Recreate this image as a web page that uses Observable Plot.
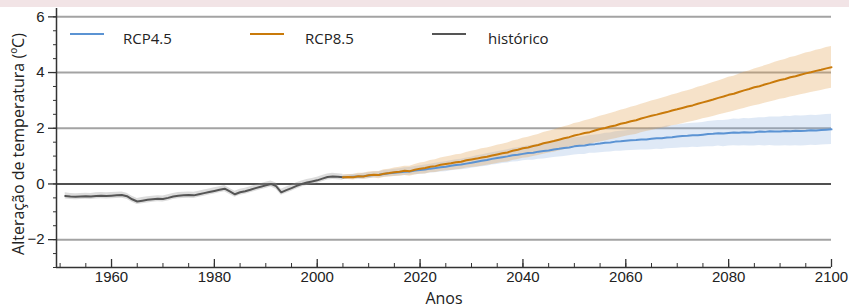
<!DOCTYPE html>
<html><head><meta charset="utf-8">
<script src="https://cdn.jsdelivr.net/npm/d3@7"></script>
<script src="https://cdn.jsdelivr.net/npm/@observablehq/plot@0.6"></script>
<style>
html,body{margin:0;padding:0;background:#fff;}
#band{height:7px;background:#f2e4e6;}
#wrap{position:relative;width:849px;height:300px;}
.sw{position:absolute;height:0;border-top:2px solid;}
.lt{position:absolute;font-family:"Open Sans",sans-serif;font-size:15px;color:#222;line-height:20px;white-space:nowrap;}
</style></head><body>
<div id="band"></div>
<div id="wrap"></div>
<script>
// ---- data ----
const histStart = 1951;
const histVals = [
-0.43,-0.45,-0.46,-0.45,-0.44,-0.45,-0.43,-0.42,-0.43,-0.42,
-0.41,-0.40,-0.44,-0.55,-0.63,-0.60,-0.57,-0.55,-0.53,-0.54,
-0.50,-0.45,-0.42,-0.41,-0.40,-0.41,-0.37,-0.33,-0.29,-0.25,
-0.21,-0.17,-0.27,-0.37,-0.30,-0.26,-0.21,-0.15,-0.10,-0.05,
0.00,-0.08,-0.30,-0.22,-0.15,-0.07,0.00,0.05,0.09,0.13,
0.19,0.25,0.27,0.26,0.24];
const histSpread = 0.11;

const rcpStart = 2005;
const rcp45 = [
0.24,0.25,0.26,0.27,0.28,0.30,0.32,0.33,0.36,0.38,
0.40,0.42,0.44,0.45,0.48,0.50,0.52,0.55,0.57,0.60,
0.62,0.65,0.68,0.70,0.73,0.76,0.80,0.83,0.86,0.90,
0.93,0.96,0.99,1.03,1.05,1.08,1.11,1.12,1.16,1.18,
1.20,1.24,1.26,1.29,1.31,1.35,1.37,1.38,1.42,1.43,
1.45,1.48,1.49,1.52,1.53,1.55,1.57,1.58,1.60,1.60,
1.62,1.64,1.64,1.67,1.68,1.70,1.72,1.73,1.75,1.75,
1.77,1.79,1.80,1.82,1.81,1.83,1.85,1.84,1.86,1.85,
1.86,1.88,1.87,1.89,1.88,1.88,1.90,1.89,1.91,1.90,
1.91,1.93,1.92,1.94,1.95,1.96];
const rcp45Spread = [
0.08,0.08,0.09,0.09,0.10,0.10,0.11,0.11,0.12,0.12,
0.13,0.13,0.14,0.14,0.15,0.15,0.16,0.16,0.17,0.17,
0.18,0.18,0.19,0.19,0.20,0.20,0.21,0.21,0.22,0.22,
0.23,0.23,0.24,0.24,0.25,0.25,0.26,0.27,0.27,0.28,
0.28,0.29,0.29,0.30,0.30,0.31,0.31,0.32,0.32,0.33,
0.33,0.34,0.34,0.35,0.36,0.36,0.37,0.37,0.38,0.38,
0.39,0.39,0.40,0.41,0.41,0.42,0.42,0.43,0.43,0.44,
0.44,0.45,0.46,0.46,0.47,0.47,0.48,0.48,0.49,0.49,
0.50,0.50,0.51,0.51,0.52,0.52,0.53,0.53,0.54,0.54,
0.54,0.54,0.54,0.54,0.54,0.54];
const rcp85 = [
0.24,0.25,0.24,0.28,0.27,0.31,0.33,0.32,0.37,0.39,
0.42,0.44,0.47,0.46,0.51,0.55,0.57,0.62,0.64,0.69,
0.72,0.74,0.78,0.80,0.85,0.88,0.91,0.95,0.98,1.02,
1.06,1.10,1.13,1.19,1.23,1.28,1.31,1.36,1.40,1.46,
1.50,1.54,1.59,1.64,1.68,1.74,1.78,1.83,1.86,1.92,
1.97,2.01,2.06,2.10,2.16,2.20,2.25,2.29,2.35,2.40,
2.45,2.49,2.54,2.58,2.64,2.68,2.73,2.78,2.82,2.88,
2.93,2.98,3.03,3.09,3.14,3.20,3.24,3.30,3.36,3.41,
3.47,3.51,3.57,3.62,3.68,3.73,3.77,3.83,3.87,3.92,
3.97,4.01,4.06,4.10,4.15,4.19];
const rcp85Spread = [
0.08,0.09,0.10,0.10,0.11,0.12,0.12,0.13,0.14,0.14,
0.15,0.16,0.17,0.18,0.19,0.20,0.21,0.22,0.23,0.24,
0.25,0.26,0.27,0.27,0.28,0.29,0.30,0.31,0.31,0.32,
0.33,0.33,0.34,0.35,0.35,0.36,0.37,0.37,0.38,0.39,
0.39,0.40,0.41,0.41,0.42,0.43,0.43,0.44,0.45,0.45,
0.46,0.47,0.47,0.48,0.49,0.49,0.50,0.51,0.51,0.52,
0.53,0.53,0.54,0.55,0.55,0.56,0.57,0.57,0.58,0.59,
0.59,0.60,0.61,0.61,0.62,0.63,0.63,0.64,0.65,0.65,
0.66,0.67,0.67,0.68,0.69,0.69,0.70,0.71,0.71,0.72,
0.73,0.73,0.74,0.74,0.75,0.75];

const yTicks = [-2, 0, 2, 4, 6];
const yMinor = [-3,-2.5,-2,-1.5,-1,-0.5,0,0.5,1,1.5,2,2.5,3,3.5,4,4.5,5,5.5,6];
const xTicks = [1960, 1980, 2000, 2020, 2040, 2060, 2080, 2100];
const xMinor = [1950,1955,1960,1965,1970,1975,1980,1985,1990,1995,2000,2005,2010,2015,2020,2025,2030,2035,2040,2045,2050,2055,2060,2065,2070,2075,2080,2085,2090,2095,2100];
const gridLines = [-2, 2, 4, 6];
const xDomain = [1949.3, 2100];
const yDomain = [-3, 6.3];
const seriesNames = ["RCP4.5", "RCP8.5", "histórico"];
const seriesColors = ["#5b93d3", "#c97a0a", "#555555"];
const xLabel = "Anos";
const yLabel = "Alteração de temperatura (ºC)";

// ---- build tables ----
const hist = histVals.map((v, i) => ({year: histStart + i, y: v, lo: v - histSpread, hi: v + histSpread}));
const r45 = rcp45.map((v, i) => ({year: rcpStart + i, y: v, lo: v - rcp45Spread[i], hi: v + rcp45Spread[i]}));
const r85 = rcp85.map((v, i) => ({year: rcpStart + i, y: v, lo: v - rcp85Spread[i], hi: v + rcp85Spread[i]}));

const chart = Plot.plot({
  width: 849, height: 300,
  marginLeft: 56, marginRight: 18, marginTop: 1, marginBottom: 40,
  x: {domain: xDomain, label: null},
  y: {domain: yDomain, label: null},
  style: {fontFamily: "Liberation Sans, Arial, sans-serif", fontSize: "15px", color: "#222", background: "transparent", overflow: "visible"},
  marks: [
    Plot.ruleY(gridLines, {stroke: "#a3a3a3", strokeWidth: 2}),
    Plot.ruleY([0], {stroke: "#505050", strokeWidth: 2}),
    Plot.areaY(hist, {x: "year", y1: "lo", y2: "hi", fill: "#9a9a9a", fillOpacity: 0.35}),
    Plot.areaY(r45, {x: "year", y1: "lo", y2: "hi", fill: "#7fa9da", fillOpacity: 0.25}),
    Plot.areaY(r85, {x: "year", y1: "lo", y2: "hi", fill: "#e0a04c", fillOpacity: 0.3}),
    Plot.lineY(hist, {x: "year", y: "y", stroke: seriesColors[2], strokeWidth: 2}),
    Plot.lineY(r45, {x: "year", y: "y", stroke: seriesColors[0], strokeWidth: 2}),
    Plot.lineY(r85, {x: "year", y: "y", stroke: seriesColors[1], strokeWidth: 2}),
    Plot.ruleX([xDomain[0]], {stroke: "#333", strokeWidth: 1.5}),
    Plot.ruleY([yDomain[0]], {stroke: "#333", strokeWidth: 1.5}),
    Plot.axisY(yTicks, {label: null, tickSize: 8, tickPadding: 4, stroke: "#333", strokeWidth: 1.3}),
    Plot.axisY(yMinor, {label: null, tickSize: 3, tickFormat: () => "", stroke: "#333"}),
    Plot.axisX(xTicks, {label: null, tickSize: 8, dy: -8, tickFormat: () => "", stroke: "#333", strokeWidth: 1.3}),
    Plot.axisX(xMinor, {label: null, tickSize: 4, dy: -4, tickFormat: () => "", stroke: "#333"}),
    Plot.axisX(xTicks, {label: null, tickSize: 0, tickPadding: 4, tickFormat: d => String(d)}),
    Plot.text([xLabel], {frameAnchor: "bottom", dy: 36, text: d => d, fontFamily: "Open Sans", fontSize: 16, fill: "#222"}),
    Plot.text([yLabel], {frameAnchor: "left", textAnchor: "middle", rotate: -90, dx: -38, dy: 6, text: d => d, fontFamily: "Open Sans", fontSize: 16, fill: "#222"})
  ]
});
const wrap = document.getElementById("wrap");
wrap.appendChild(chart);

// legend (inside plot area, top)
const legPos = [[70, 123], [250, 305], [432, 488]];
seriesNames.forEach((name, i) => {
  const sw = document.createElement("div");
  sw.className = "sw";
  sw.style.left = legPos[i][0] + "px";
  sw.style.width = "34px";
  sw.style.top = "26px";
  sw.style.borderTopColor = seriesColors[i];
  wrap.appendChild(sw);
  const t = document.createElement("div");
  t.className = "lt";
  t.style.left = legPos[i][1] + "px";
  t.style.top = "21px";
  t.textContent = name;
  wrap.appendChild(t);
});
</script>
</body></html>
